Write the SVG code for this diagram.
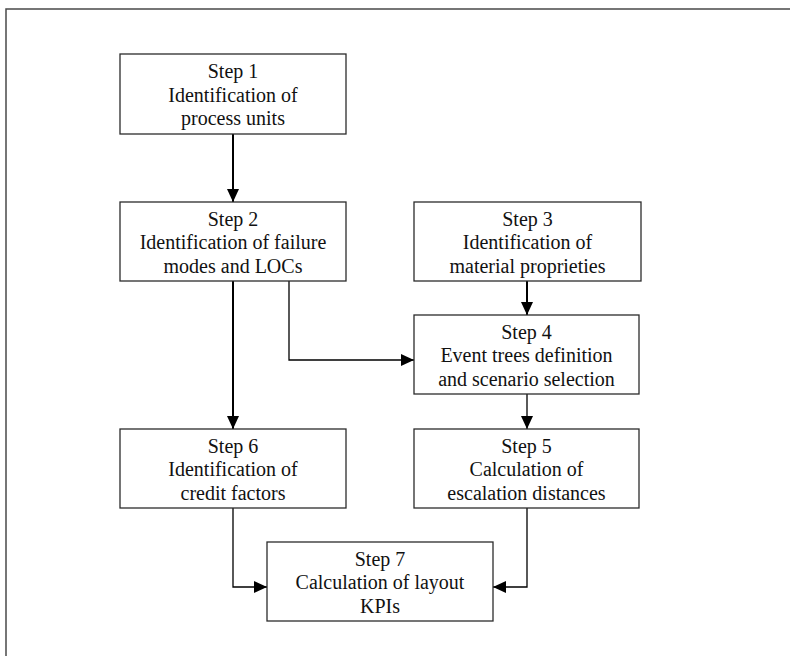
<svg xmlns="http://www.w3.org/2000/svg" width="790" height="656" viewBox="0 0 790 656">
  <defs>
    <style>
      .box { fill: #ffffff; stroke: #2b2b2b; stroke-width: 1.3; }
      .lbl { font-family: "Liberation Serif", "Times New Roman", serif; font-size: 20px; fill: #111111; text-anchor: middle; }
      .wire { fill: none; stroke: #000000; stroke-width: 1.3; }
      .main { stroke-width: 2; }
      .frame { fill: none; stroke: #4a4a4a; stroke-width: 1.5; }
    </style>
    <marker id="arrow" markerUnits="userSpaceOnUse" markerWidth="13" markerHeight="12" refX="13" refY="6" orient="auto" viewBox="0 0 13 12">
      <path d="M0,0 L13,6 L0,12 z" fill="#000000"/>
    </marker>
  </defs>

  <rect x="0" y="0" width="790" height="656" fill="#ffffff"/>
  <!-- outer frame, open past the right and bottom edges -->
  <rect class="frame" x="6" y="9" width="820" height="700"/>

  <g id="connectors">
    <path class="wire main" d="M233,134 V202" marker-end="url(#arrow)"/>
    <path class="wire main" d="M233,281 V429" marker-end="url(#arrow)"/>
    <path class="wire" d="M289,281 V360 H414" marker-end="url(#arrow)"/>
    <path class="wire main" d="M527,281 V315" marker-end="url(#arrow)"/>
    <path class="wire" d="M527,394 V429" marker-end="url(#arrow)"/>
    <path class="wire" d="M233,508 V587 H267" marker-end="url(#arrow)"/>
    <path class="wire" d="M527,508 V587 H493" marker-end="url(#arrow)"/>
  </g>

  <g id="step1">
    <rect class="box" x="120" y="54" width="226" height="80"/>
    <text class="lbl" x="233" y="78">Step 1</text>
    <text class="lbl" x="233" y="101.5">Identification of</text>
    <text class="lbl" x="233" y="125">process units</text>
  </g>

  <g id="step2">
    <rect class="box" x="120" y="202" width="226" height="79"/>
    <text class="lbl" x="233" y="225.5">Step 2</text>
    <text class="lbl" x="233" y="249">Identification of failure</text>
    <text class="lbl" x="233" y="272.5">modes and LOCs</text>
  </g>

  <g id="step3">
    <rect class="box" x="414" y="202" width="227" height="79"/>
    <text class="lbl" x="527.5" y="225.5">Step 3</text>
    <text class="lbl" x="527.5" y="249">Identification of</text>
    <text class="lbl" x="527.5" y="272.5">material proprieties</text>
  </g>

  <g id="step4">
    <rect class="box" x="414" y="315" width="225" height="79"/>
    <text class="lbl" x="526.5" y="338.5">Step 4</text>
    <text class="lbl" x="526.5" y="362">Event trees definition</text>
    <text class="lbl" x="526.5" y="385.5">and scenario selection</text>
  </g>

  <g id="step5">
    <rect class="box" x="414" y="429" width="225" height="79"/>
    <text class="lbl" x="526.5" y="452.5">Step 5</text>
    <text class="lbl" x="526.5" y="476">Calculation of</text>
    <text class="lbl" x="526.5" y="499.5">escalation distances</text>
  </g>

  <g id="step6">
    <rect class="box" x="120" y="429" width="226" height="79"/>
    <text class="lbl" x="233" y="452.5">Step 6</text>
    <text class="lbl" x="233" y="476">Identification of</text>
    <text class="lbl" x="233" y="499.5">credit factors</text>
  </g>

  <g id="step7">
    <rect class="box" x="267" y="542" width="226" height="79"/>
    <text class="lbl" x="380" y="565.5">Step 7</text>
    <text class="lbl" x="380" y="589">Calculation of layout</text>
    <text class="lbl" x="380" y="612.5">KPIs</text>
  </g>
</svg>
